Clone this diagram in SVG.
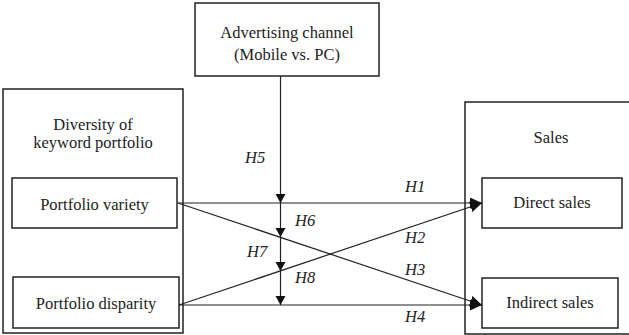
<svg xmlns="http://www.w3.org/2000/svg" width="629" height="335" viewBox="0 0 629 335">
<style>
.box{fill:none;stroke:#222;stroke-width:1.5}
.t{font-family:'Liberation Serif',serif;font-size:16.5px;fill:#222;text-anchor:middle}
.h{font-family:'Liberation Serif',serif;font-size:16.5px;fill:#222;font-style:italic}
.c{stroke:#222;stroke-width:1.2;fill:none}
</style>
<defs>
<marker id="ab" markerUnits="userSpaceOnUse" markerWidth="13" markerHeight="12" refX="12" refY="5.5" orient="auto"><path d="M0,0 L12,5.5 L0,11 z" fill="#111"/></marker>
<marker id="as" markerUnits="userSpaceOnUse" markerWidth="10" markerHeight="11" refX="9" refY="5" orient="auto"><path d="M0,0 L9,5 L0,10 z" fill="#111"/></marker>
</defs>
<g id="channel"><rect class="box" x="195" y="3" width="184" height="73"/><text class="t" x="287" y="38">Advertising channel</text><text class="t" x="287" y="60">(Mobile vs. PC)</text></g>
<g id="diversity"><rect class="box" x="3" y="89" width="180" height="244"/><text class="t" x="93" y="130">Diversity of</text><text class="t" x="93" y="148">keyword portfolio</text></g>
<g id="variety"><rect class="box" x="12" y="178" width="165" height="50"/><text class="t" x="94.5" y="210">Portfolio variety</text></g>
<g id="disparity"><rect class="box" x="13" y="277" width="166" height="51"/><text class="t" x="96" y="309">Portfolio disparity</text></g>
<g id="sales"><path class="box" d="M630,102 H465 V334 H630"/><text class="t" x="551" y="143">Sales</text></g>
<g id="direct"><rect class="box" x="482" y="178" width="140" height="50"/><text class="t" x="552" y="208">Direct sales</text></g>
<g id="indirect"><rect class="box" x="482" y="278" width="136" height="50"/><text class="t" x="550" y="308">Indirect sales</text></g>
<g id="connectors">
<line class="c" x1="178" y1="203" x2="482" y2="203" marker-end="url(#ab)"/>
<line class="c" x1="179" y1="305" x2="482" y2="305" marker-end="url(#ab)"/>
<line class="c" x1="178" y1="203" x2="482" y2="305" marker-end="url(#ab)"/>
<line class="c" x1="179" y1="305" x2="482" y2="203" marker-end="url(#ab)"/>
<line class="c" x1="280.5" y1="76" x2="280.5" y2="203" marker-end="url(#as)"/>
<line class="c" x1="280.5" y1="203" x2="280.5" y2="237" marker-end="url(#as)"/>
<line class="c" x1="280.5" y1="237" x2="280.5" y2="271" marker-end="url(#as)"/>
<line class="c" x1="280.5" y1="271" x2="280.5" y2="305" marker-end="url(#as)"/>
<text class="h" x="245" y="163">H5</text>
<text class="h" x="405" y="192">H1</text>
<text class="h" x="295" y="226">H6</text>
<text class="h" x="405" y="243">H2</text>
<text class="h" x="247" y="257">H7</text>
<text class="h" x="405" y="275">H3</text>
<text class="h" x="295" y="283">H8</text>
<text class="h" x="405" y="322">H4</text>
</g>
</svg>
